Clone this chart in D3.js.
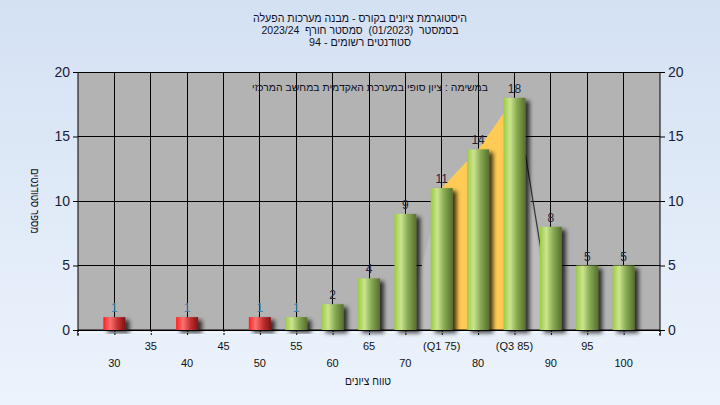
<!DOCTYPE html>
<html><head><meta charset="utf-8">
<script src="https://cdn.jsdelivr.net/npm/d3@7"></script>
<style>
html,body{margin:0;padding:0;}
body{width:720px;height:405px;overflow:hidden;}
text{font-family:"Liberation Sans",Arial,sans-serif;}
.pre{white-space:pre;}
</style></head>
<body><svg id="c" width="720" height="405"></svg>
<script>
const titleLines = ["היסטוגרמת ציונים בקורס - מבנה מערכות הפעלה","בסמסטר  (01/2023)  סמסטר חורף  2023/24","סטודנטים רשומים - 94"];
const subtitle = "במשימה : ציון סופי במערכת האקדמית במחשב המרכזי";
const categories = [30,35,40,45,50,55,60,65,70,75,80,85,90,95,100];
const tickLabels = ["30","35","40","45","50","55","60","65","70","(Q1 75)","80","(Q3 85)","90","95","100"];
const counts = [1,0,1,0,1,1,2,4,9,11,14,18,8,5,5];
const yTicks = [0,5,10,15,20];
const passGrade = 55;
const quartileCats = [75,80,85];
const quartileVals = [11,14,18];
const spreadCats = [70,75,80,85,90];
const spreadVals = [0,11,14,18,0];
const edgeVals = [13.6,0];   // dark edge line from bar 85 to bar 90
const xTitle = "טווח ציונים";
const yTitle = "מספר סטודנטים";

const svg = d3.select("#c");
const W=720,H=405;
const L=78,R=660,T=72,B=330;
const defs = svg.append("defs");
const bg = defs.append("linearGradient").attr("id","bg").attr("x1",0).attr("x2",0).attr("y1",0).attr("y2",1);
bg.append("stop").attr("offset","0%").attr("stop-color","#d4e1f3");
bg.append("stop").attr("offset","100%").attr("stop-color","#ecf3fc");
const gG = defs.append("linearGradient").attr("id","gG");
[["0%","#9ccb43"],["30%","#cbe58e"],["60%","#8aac55"],["100%","#566f2c"]].forEach(s=>gG.append("stop").attr("offset",s[0]).attr("stop-color",s[1]));
const gR = defs.append("linearGradient").attr("id","gR");
[["0%","#ff1e1e"],["30%","#ff7272"],["65%","#c43030"],["100%","#7e1414"]].forEach(s=>gR.append("stop").attr("offset",s[0]).attr("stop-color",s[1]));
const f = defs.append("filter").attr("id","sh").attr("x","-30%").attr("y","-30%").attr("width","180%").attr("height","160%");
f.append("feDropShadow").attr("dx",4).attr("dy",3).attr("stdDeviation",2).attr("flood-color","#000").attr("flood-opacity",0.75);

svg.append("rect").attr("width",W).attr("height",H).attr("fill","url(#bg)");
svg.append("rect").attr("x",L).attr("y",T).attr("width",R-L).attr("height",B-T).attr("fill","#b3b3b3");

const x = d3.scalePoint().domain(categories).range([L,R]).padding(1);
const y = d3.scaleLinear().domain([0,20]).range([B,T]);
const bw = 22;

// grid
const g = svg.append("g");
g.selectAll(".vg").data(categories).join("line").attr("x1",d=>x(d)).attr("x2",d=>x(d)).attr("y1",T).attr("y2",B).attr("stroke","#000").attr("stroke-width",1).attr("shape-rendering","crispEdges");
g.selectAll(".hg").data(yTicks).join("line").attr("x1",L).attr("x2",R).attr("y1",d=>y(d)).attr("y2",d=>y(d)).attr("stroke","#000").attr("stroke-width",1).attr("shape-rendering","crispEdges");

// spread area (light)
const spread = spreadCats.map((c,i)=>[x(c),y(spreadVals[i])]);
svg.append("path").attr("d",d3.area().x(d=>d[0]).y0(B).y1(d=>d[1])(spread)).attr("fill","#bdbdbd");
svg.append("line").attr("x1",x(85)+bw/2).attr("y1",y(edgeVals[0])).attr("x2",x(90)+3).attr("y2",y(edgeVals[1])).attr("stroke","#333").attr("stroke-width",1.2);
// quartile area
const q = quartileCats.map((c,i)=>[x(c),y(quartileVals[i])]);
svg.append("path").attr("d",d3.area().x(d=>d[0]).y0(B).y1(d=>d[1])(q)).attr("fill","#ffcb55");

// axes
const axL = svg.append("g").attr("transform",`translate(${L},0)`).call(d3.axisLeft(y).tickValues(yTicks).tickSize(5).tickPadding(3));
const axR = svg.append("g").attr("transform",`translate(${R},0)`).call(d3.axisRight(y).tickValues(yTicks).tickSize(5).tickPadding(3));
[axL,axR].forEach(a=>{a.select(".domain").attr("stroke","#000");a.selectAll("line").attr("stroke","#000");a.selectAll("text").attr("font-size",14).attr("fill","#1a1a3a").attr("font-family","'Liberation Sans',Arial,sans-serif");});
axL.select(".domain").attr("d",`M0,${T}V${B+6}`);
axR.select(".domain").attr("d",`M0,${T}V${B+6}`);

const axB = svg.append("g").attr("transform",`translate(0,${B})`).call(d3.axisBottom(x).tickSize(5).tickFormat(""));
axB.select(".domain").attr("d",`M${L},0H${R}`).attr("stroke","#000");
axB.selectAll("line").attr("stroke","#000");
svg.append("line").attr("x1",L).attr("x2",R).attr("y1",B+2.5).attr("y2",B+2.5).attr("stroke","#f4f8fd").attr("stroke-width",1);
axB.append("line").attr("x1",L).attr("x2",L).attr("y1",0).attr("y2",5).attr("stroke","#000");
axB.append("line").attr("x1",R).attr("x2",R).attr("y1",0).attr("y2",5).attr("stroke","#000");

svg.append("g").selectAll("text").data(categories).join("text")
  .attr("x",d=>x(d)).attr("y",(d,i)=>i%2? B+20 : B+37)
  .attr("text-anchor","middle").attr("font-size",11).attr("fill","#111")
  .text((d,i)=>tickLabels[i]);

// bars
const bars = svg.append("g");
const data = categories.map((c,i)=>({c,v:counts[i]})).filter(d=>d.v>0);
bars.selectAll("rect").data(data).join("rect")
  .attr("x",d=>x(d.c)-bw/2).attr("width",bw)
  .attr("y",d=>y(d.v)).attr("height",d=>B-y(d.v))
  .attr("fill",d=>d.c<passGrade?"url(#gR)":"url(#gG)")
  .attr("filter","url(#sh)");
bars.selectAll("text").data(data).join("text")
  .attr("x",d=>x(d.c)).attr("y",d=>y(d.v)-5)
  .attr("text-anchor","middle").attr("font-size",12)
  .attr("fill",d=>d.v===1?"#3f7fae":"#1c2440")
  .text(d=>d.v);

// titles
const titleWidths = [214,197,102];
svg.append("g").selectAll("text").data(titleLines).join("text")
  .attr("class","pre")
  .attr("x",360).attr("y",(d,i)=>22+i*12).attr("text-anchor","middle")
  .attr("direction","rtl").attr("unicode-bidi","embed")
  .attr("textLength",(d,i)=>titleWidths[i]).attr("lengthAdjust","spacingAndGlyphs")
  .attr("font-size",11).attr("fill","#111122").text(d=>d);
svg.append("text").attr("x",370).attr("y",91).attr("text-anchor","middle")
  .attr("direction","rtl").attr("unicode-bidi","embed")
  .attr("textLength",236).attr("lengthAdjust","spacingAndGlyphs")
  .attr("font-size",10.5).attr("fill","#111122").text(subtitle);
svg.append("text").attr("x",368).attr("y",385).attr("text-anchor","middle")
  .attr("direction","rtl").attr("textLength",46).attr("lengthAdjust","spacingAndGlyphs")
  .attr("font-size",12).attr("fill","#111122").text(xTitle);
svg.append("text").attr("transform",`translate(31,${(T+B)/2}) rotate(90)`).attr("text-anchor","middle")
  .attr("direction","rtl").attr("textLength",65).attr("lengthAdjust","spacingAndGlyphs")
  .attr("font-size",12).attr("fill","#111122").text(yTitle);
</script></body></html>
